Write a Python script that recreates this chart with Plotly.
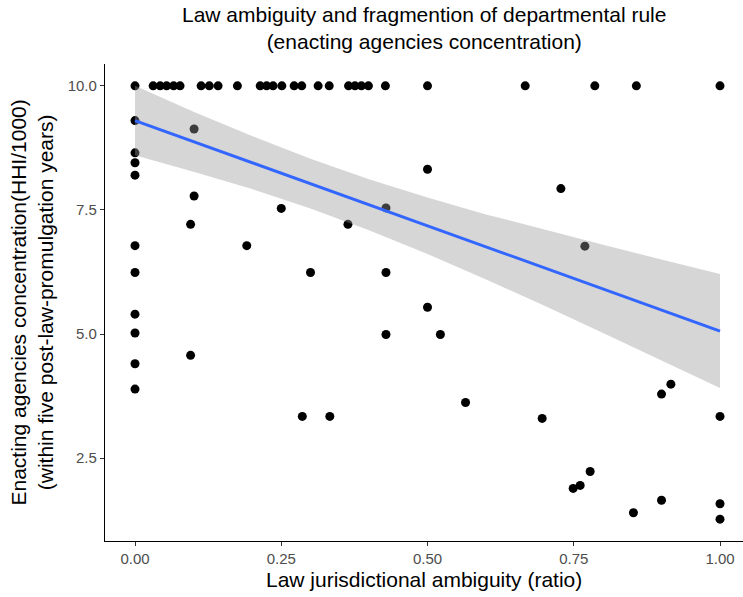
import plotly.graph_objects as go

# ---- data ----
x_top = [0.0, 0.031, 0.043, 0.054, 0.066, 0.077, 0.113, 0.127, 0.142, 0.175,
         0.214, 0.225, 0.236, 0.251, 0.272, 0.285, 0.313, 0.332, 0.365, 0.376,
         0.387, 0.399, 0.428, 0.50, 0.667, 0.786, 0.857, 1.0]
y_top = [10.0] * len(x_top)

x_zero = [0.0] * 10
y_zero = [9.30, 8.65, 8.45, 8.20, 6.78, 6.24, 5.40, 5.02, 4.40, 3.89]

x_rest = [0.101, 0.101, 0.25, 0.095, 0.191, 0.095,
          0.50, 0.429, 0.364, 0.30, 0.429, 0.50, 0.429, 0.522, 0.565, 0.286, 0.333,
          0.728, 0.769, 0.696, 0.778, 0.90, 0.916, 1.0, 0.761, 0.749, 0.90, 0.852,
          1.0, 1.0]
y_rest = [9.13, 7.78, 7.53, 7.21, 6.78, 4.57,
          8.32, 7.54, 7.21, 6.24, 6.24, 5.54, 4.99, 4.99, 3.62, 3.34, 3.34,
          7.93, 6.77, 3.30, 2.23, 3.79, 3.99, 3.34, 1.95, 1.89, 1.65, 1.40,
          1.58, 1.27]

# linear smoother and its 95% band
fit_x = [0.0, 0.1, 0.2, 0.3, 0.4, 0.5, 0.6, 0.7, 0.8, 0.9, 1.0]
fit_y = [9.30, 8.876, 8.452, 8.028, 7.604, 7.18, 6.756, 6.332, 5.908, 5.484, 5.06]
band_hi = [10.00, 9.48, 8.99, 8.53, 8.12, 7.75, 7.41, 7.10, 6.80, 6.50, 6.21]
band_lo = [8.60, 8.27, 7.92, 7.53, 7.09, 6.61, 6.10, 5.57, 5.02, 4.47, 3.91]

x_ticks = [0.0, 0.25, 0.5, 0.75, 1.0]
x_tick_text = ["0.00", "0.25", "0.50", "0.75", "1.00"]
y_ticks = [2.5, 5.0, 7.5, 10.0]
y_tick_text = ["2.5", "5.0", "7.5", "10.0"]

x = x_top + x_zero + x_rest
y = y_top + y_zero + y_rest

fig = go.Figure()
fig.add_trace(go.Scatter(x=x, y=y, mode="markers",
                         marker=dict(color="black", size=9, line=dict(width=0)),
                         showlegend=False, hoverinfo="skip"))
fig.add_trace(go.Scatter(x=fit_x + fit_x[::-1],
                         y=band_hi + band_lo[::-1],
                         fill="toself", fillcolor="rgba(153,153,153,0.4)",
                         line=dict(width=0), mode="lines",
                         showlegend=False, hoverinfo="skip"))
fig.add_trace(go.Scatter(x=fit_x, y=fit_y, mode="lines",
                         line=dict(color="#3366FF", width=3),
                         showlegend=False, hoverinfo="skip"))

font = "Liberation Sans, Arial, sans-serif"
fig.update_layout(
    width=743, height=597,
    margin=dict(l=105, r=0, t=64, b=56),
    paper_bgcolor="white", plot_bgcolor="white",
    font=dict(family=font, color="black"),
    xaxis=dict(range=[-0.0513, 1.0393], tickvals=x_ticks, ticktext=x_tick_text,
               showgrid=False, zeroline=False, showline=True, linecolor="black",
               linewidth=1.2, ticks="outside", ticklen=4, tickcolor="#333333",
               tickfont=dict(size=15, color="#4D4D4D", family=font)),
    yaxis=dict(range=[0.83, 10.44], tickvals=y_ticks, ticktext=y_tick_text,
               showgrid=False, zeroline=False, showline=True, linecolor="black",
               linewidth=1.2, ticks="outside", ticklen=4, tickcolor="#333333",
               tickfont=dict(size=15, color="#4D4D4D", family=font)),
    annotations=[
        dict(text="Law ambiguity and fragmention of departmental rule<br>(enacting agencies concentration)",
             xref="paper", yref="paper", x=0.5, y=1.0, yshift=63,
             xanchor="center", yanchor="top", showarrow=False,
             font=dict(size=21, color="black", family=font)),
        dict(text="Law jurisdictional ambiguity (ratio)",
             xref="paper", yref="paper", x=0.5, y=0, yshift=-25,
             xanchor="center", yanchor="top", showarrow=False,
             font=dict(size=21, color="black", family=font)),
        dict(text="Enacting agencies concentration(HHI/1000)<br>(within five post-law-promulgation years)",
             xref="paper", yref="paper", x=0, xshift=-74, y=0.5,
             xanchor="center", yanchor="middle", textangle=-90, showarrow=False,
             font=dict(size=21, color="black", family=font)),
    ],
)

fig.write_html("out.html")
